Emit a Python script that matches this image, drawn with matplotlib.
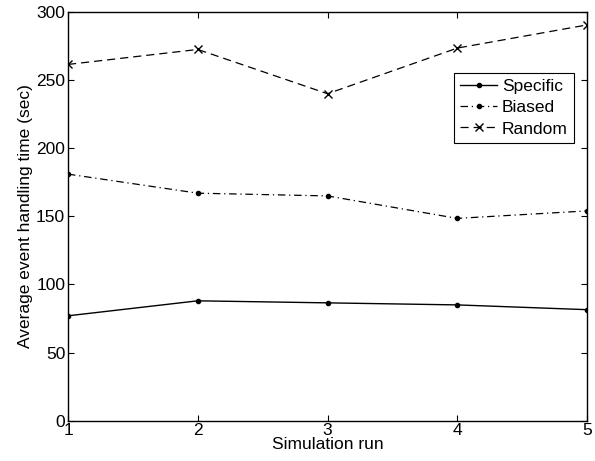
import matplotlib
matplotlib.use("Agg")
import matplotlib.pyplot as plt

plt.rcParams['font.family'] = ['Liberation Sans', 'DejaVu Sans']

# Data
runs = [1, 2, 3, 4, 5]
specific = [77, 88, 86.5, 85, 81.5]
biased = [181, 167, 165, 148.5, 154]
random_ = [261.5, 272.5, 240, 273.5, 290.5]

fig = plt.figure(figsize=(5.95, 4.61), dpi=100)
ax = fig.add_axes([0.1143, 0.0874, 0.8723, 0.8866])

ax.plot(runs, specific, color='black', linestyle='-', marker='.', markersize=6, linewidth=1.0, label='Specific')
ax.plot(runs, biased, color='black', linestyle='-.', marker='.', markersize=6, linewidth=0.9,
        dashes=(6, 3, 1, 3), label='Biased')
ax.plot(runs, random_, color='black', linestyle='--', marker='x', markersize=6, linewidth=0.9,
        dashes=(6.5, 4), label='Random')

ax.set_xlim(1, 5)
ax.set_ylim(0, 300)
ax.set_xticks(runs)
ax.set_yticks(range(0, 301, 50))
ax.tick_params(direction='in', top=True, right=True, labelsize=12.5, length=4, pad=2)
for s in ax.spines.values():
    s.set_linewidth(1.0)

ax.set_xlabel('Simulation run', fontsize=12.5, labelpad=-1)
ax.set_ylabel('Average event handling time (sec)', fontsize=12.5, labelpad=2)

leg = ax.legend(loc='upper right', bbox_to_anchor=(0.975, 0.851), fontsize=12.5,
                fancybox=False, edgecolor='black', framealpha=1, handlelength=2.1,
                borderpad=0.35, labelspacing=0.35, handletextpad=0.3, borderaxespad=0)
leg.get_frame().set_linewidth(0.8)

fig.savefig('out.png', dpi=100)
